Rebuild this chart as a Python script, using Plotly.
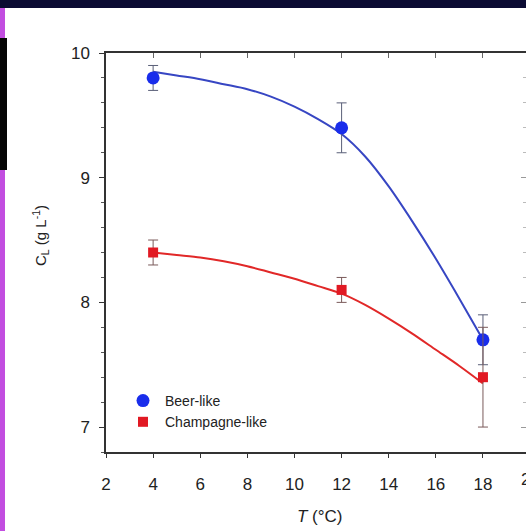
import plotly.graph_objects as go

# ---- data ----
temps = [4, 12, 18]
beer_cl = [9.8, 9.4, 7.7]
beer_err = [0.1, 0.2, 0.2]
champ_cl = [8.4, 8.1, 7.4]
champ_err_plus = [0.1, 0.1, 0.4]
champ_err_minus = [0.1, 0.1, 0.4]

fit_t = [4, 5, 6, 7, 8, 9, 10, 11, 12, 13, 14, 15, 16, 17, 18]
beer_fit = [9.85, 9.82, 9.79, 9.75, 9.71, 9.65, 9.57, 9.47, 9.35, 9.17, 8.93, 8.65, 8.35, 8.03, 7.70]
champ_fit = [8.40, 8.38, 8.36, 8.33, 8.29, 8.24, 8.19, 8.13, 8.07, 7.98, 7.87, 7.75, 7.62, 7.49, 7.35]

x_ticks = [2, 4, 6, 8, 10, 12, 14, 16, 18, 20]
y_ticks = [7, 8, 9, 10]

FONT = "Arial, Liberation Sans, sans-serif"
W, H = 526, 531
L, T, B = 106, 53, 452          # plot area edges in px
PXU = 23.56                     # px per degree
XMAX = 2 + (W - L) / PXU

def px(xp):
    return (xp - L) / (W - L)

def py(yp):
    return (B - yp) / (B - T)

fig = go.Figure()

fig.add_trace(go.Scatter(x=fit_t, y=beer_fit, mode="lines",
                         line=dict(color="rgb(55,70,195)", width=2, shape="spline", smoothing=0.8),
                         showlegend=False, hoverinfo="skip"))
fig.add_trace(go.Scatter(x=fit_t, y=champ_fit, mode="lines",
                         line=dict(color="rgb(225,40,40)", width=2, shape="spline", smoothing=0.8),
                         showlegend=False, hoverinfo="skip"))

fig.add_trace(go.Scatter(
    x=temps, y=beer_cl, mode="markers", name="Beer-like",
    marker=dict(symbol="circle", size=13, color="rgb(25,45,235)"),
    error_y=dict(type="data", array=beer_err, visible=True, color="#5a5f78", thickness=1, width=5)))
fig.add_trace(go.Scatter(
    x=temps, y=champ_cl, mode="markers", name="Champagne-like",
    marker=dict(symbol="square", size=10, color="rgb(225,25,35)"),
    error_y=dict(type="data", symmetric=False, array=champ_err_plus, arrayminus=champ_err_minus,
                 visible=True, color="#7a5a5a", thickness=1, width=5)))

# mirror axes (top/right) with inward ticks
fig.add_trace(go.Scatter(x=[], y=[], xaxis="x2", yaxis="y2", showlegend=False, hoverinfo="skip"))

fig.update_layout(
    width=W, height=H,
    margin=dict(l=L, r=0, t=T, b=H - B),
    paper_bgcolor="white", plot_bgcolor="white",
    font=dict(family=FONT, size=17, color="#222"),
    showlegend=True,
    legend=dict(x=px(121), y=py(385), xanchor="left", yanchor="top",
                bgcolor="rgba(0,0,0,0)", font=dict(size=14, color="#222"),
                tracegroupgap=0, itemwidth=34),
    xaxis=dict(range=[2, XMAX], tickvals=x_ticks, ticks="outside", ticklen=4, tickcolor="#333",
               showline=True, linecolor="#333", linewidth=1.5, showgrid=False, zeroline=False,
               ticklabelstandoff=12, tickfont=dict(size=17, color="#222")),
    yaxis=dict(range=[6.8, 10], tickvals=y_ticks, ticks="outside", ticklen=5, tickcolor="#333",
               minor=dict(dtick=0.2, ticks="outside", ticklen=3, tickcolor="#555"),
               showline=True, linecolor="#333", linewidth=1.5, showgrid=False, zeroline=False,
               ticklabelstandoff=6, tickfont=dict(size=17, color="#222")),
    xaxis2=dict(overlaying="x", matches="x", side="top", tickvals=x_ticks, ticks="inside", ticklen=5,
                tickcolor="#666", showline=True, linecolor="#333", linewidth=1.5, showticklabels=False,
                showgrid=False, zeroline=False),
    yaxis2=dict(overlaying="y", matches="y", side="right", tickvals=y_ticks, ticks="inside", ticklen=5,
                tickcolor="#999", minor=dict(dtick=0.2, ticks="inside", ticklen=3, tickcolor="#bbb"),
                showline=False, showticklabels=False, showgrid=False, zeroline=False),
    annotations=[
        dict(text="<i>T</i> (°C)", x=px(320), y=py(516), xref="paper", yref="paper",
             showarrow=False, font=dict(size=17, color="#222"), xanchor="center", yanchor="middle"),
        dict(text="C<sub>L</sub> (g L<sup>-1</sup>)", x=px(40), y=py(236), xref="paper", yref="paper",
             showarrow=False, textangle=-90, font=dict(size=15, color="#222"), xanchor="center", yanchor="middle"),
        dict(text="20", x=px(106 + 18 * PXU), y=py(479), xref="paper", yref="paper", showarrow=False,
             font=dict(size=17, color="#222"), xanchor="center", yanchor="middle"),
    ],
    shapes=[
        dict(type="rect", xref="paper", yref="paper", x0=px(0), x1=px(W), y0=py(0), y1=py(8),
             fillcolor="#0b0b33", line=dict(width=0), layer="above"),
        dict(type="rect", xref="paper", yref="paper", x0=px(0), x1=px(5), y0=py(8), y1=py(H),
             fillcolor="#c24de0", line=dict(width=0), layer="above"),
        dict(type="rect", xref="paper", yref="paper", x0=px(0), x1=px(7), y0=py(38), y1=py(170),
             fillcolor="#050505", line=dict(width=0), layer="above"),
    ],
)

fig.write_html("out.html", config={"displayModeBar": False},
               post_script="document.body.style.margin='0';document.body.style.overflow='hidden';")
